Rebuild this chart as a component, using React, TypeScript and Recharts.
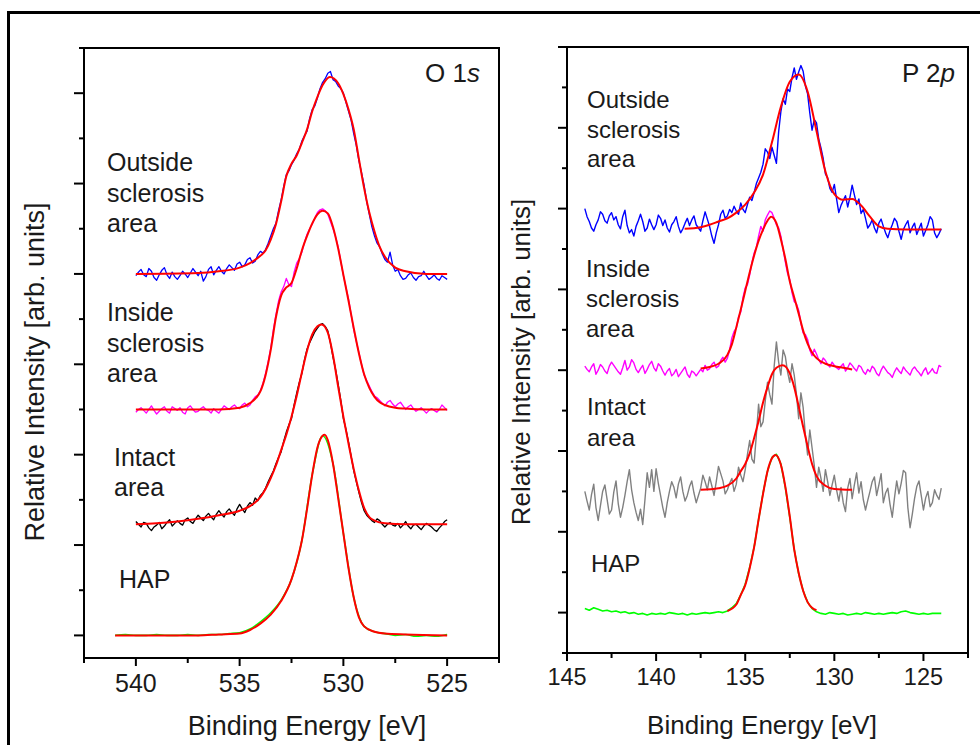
import React from 'react';
import { LineChart, Line, XAxis, YAxis, ReferenceArea } from 'recharts';

const FONT = '"Liberation Sans", Arial, sans-serif';

// ---------- O 1s panel ----------
// energy grid of the measured O 1s spectra (8 points per eV)
const O1S_E = [
  540, 539.875, 539.75, 539.625, 539.5, 539.375, 539.25, 539.125,
  539, 538.875, 538.75, 538.625, 538.5, 538.375, 538.25, 538.125,
  538, 537.875, 537.75, 537.625, 537.5, 537.375, 537.25, 537.125,
  537, 536.875, 536.75, 536.625, 536.5, 536.375, 536.25, 536.125,
  536, 535.875, 535.75, 535.625, 535.5, 535.375, 535.25, 535.125,
  535, 534.875, 534.75, 534.625, 534.5, 534.375, 534.25, 534.125,
  534, 533.875, 533.75, 533.625, 533.5, 533.375, 533.25, 533.125,
  533, 532.875, 532.75, 532.625, 532.5, 532.375, 532.25, 532.125,
  532, 531.875, 531.75, 531.625, 531.5, 531.375, 531.25, 531.125,
  531, 530.875, 530.75, 530.625, 530.5, 530.375, 530.25, 530.125,
  530, 529.875, 529.75, 529.625, 529.5, 529.375, 529.25, 529.125,
  529, 528.875, 528.75, 528.625, 528.5, 528.375, 528.25, 528.125,
  528, 527.875, 527.75, 527.625, 527.5, 527.375, 527.25, 527.125,
  527, 526.875, 526.75, 526.625, 526.5, 526.375, 526.25, 526.125,
  526, 525.875, 525.75, 525.625, 525.5, 525.375, 525.25, 525.125,
  525,
];
const O1S_OUTSIDE = [
  3.98, 4.02, 4.05, 3.99, 3.97, 4.06, 4.03, 3.96,
  3.93, 3.99, 4.04, 4.07, 3.99, 3.95, 4.02, 3.97,
  3.94, 3.98, 4.03, 4.0, 3.96, 4.01, 4.06, 4.02,
  3.98, 4.03, 3.92, 3.97, 4.05, 4.08, 3.99, 4.04,
  4.08, 4.03, 4.0, 4.06, 4.1, 4.07, 4.04, 4.11,
  4.13, 4.08, 4.1, 4.16, 4.18, 4.12, 4.14, 4.21,
  4.25, 4.23, 4.27, 4.34, 4.42, 4.5, 4.56, 4.7,
  4.82, 4.97, 5.1, 5.14, 5.21, 5.26, 5.33, 5.38,
  5.47, 5.53, 5.58, 5.72, 5.82, 5.86, 5.95, 6.05,
  6.12, 6.16, 6.22, 6.24, 6.15, 6.13, 6.08, 6.05,
  6.0, 5.9, 5.8, 5.7, 5.55, 5.42, 5.25, 5.12,
  4.98, 4.8, 4.66, 4.52, 4.42, 4.34, 4.3, 4.22,
  4.16, 4.13, 4.24, 4.1, 4.03, 4.05, 3.98, 3.94,
  3.95, 3.99, 4.01, 3.96, 3.93, 3.97, 3.98, 4.03,
  3.98, 3.94, 3.96, 3.99, 3.95, 3.93, 3.98, 3.96,
  3.94,
];
const O1S_INSIDE = [
  2.47, 2.5, 2.52, 2.49, 2.46, 2.5, 2.54, 2.49,
  2.45, 2.48, 2.51, 2.53, 2.48, 2.46, 2.53, 2.51,
  2.49, 2.52, 2.47, 2.45, 2.52, 2.54, 2.5, 2.47,
  2.48, 2.51, 2.53, 2.5, 2.49, 2.46, 2.51, 2.48,
  2.46, 2.5, 2.54, 2.52, 2.5, 2.53, 2.55, 2.52,
  2.51, 2.55, 2.57, 2.53, 2.55, 2.6, 2.64, 2.66,
  2.71, 2.79, 2.9, 3.03, 3.18, 3.38, 3.55, 3.7,
  3.8, 3.86, 3.95, 3.88, 3.86, 4.02, 4.12, 4.17,
  4.24, 4.35, 4.44, 4.5, 4.55, 4.62, 4.68, 4.71,
  4.72, 4.7, 4.66, 4.58, 4.5, 4.41, 4.3, 4.14,
  3.98, 3.85, 3.72, 3.55, 3.38, 3.25, 3.13, 3.0,
  2.88, 2.82, 2.76, 2.7, 2.65, 2.63, 2.6, 2.57,
  2.54, 2.58, 2.6, 2.56, 2.53, 2.56, 2.58, 2.54,
  2.5, 2.53, 2.55, 2.51, 2.48, 2.5, 2.52, 2.49,
  2.46, 2.49, 2.51, 2.49, 2.47, 2.5, 2.55, 2.52,
  2.49,
];
const O1S_INTACT = [
  1.26, 1.23, 1.2, 1.25, 1.24, 1.19, 1.16, 1.2,
  1.22, 1.25, 1.18, 1.21, 1.25, 1.28, 1.21, 1.24,
  1.27, 1.24, 1.22, 1.28, 1.3, 1.26, 1.24, 1.29,
  1.33, 1.3, 1.27, 1.32, 1.35, 1.31, 1.28, 1.34,
  1.38, 1.34, 1.31, 1.37, 1.4, 1.36, 1.33, 1.4,
  1.45, 1.4, 1.36, 1.43, 1.47, 1.44, 1.52, 1.49,
  1.55, 1.58, 1.63, 1.7, 1.76, 1.82, 1.9, 1.97,
  2.03, 2.15, 2.25, 2.33, 2.4, 2.55, 2.68, 2.8,
  2.9, 3.05, 3.17, 3.24, 3.3, 3.36, 3.4, 3.44,
  3.45, 3.42, 3.37, 3.24, 3.08, 2.94, 2.78, 2.6,
  2.4, 2.28, 2.14, 1.98, 1.82, 1.7, 1.58, 1.47,
  1.38, 1.33, 1.3, 1.27, 1.25, 1.29, 1.27, 1.23,
  1.2, 1.23, 1.25, 1.22, 1.21, 1.24, 1.19, 1.22,
  1.26, 1.21, 1.18, 1.22, 1.23, 1.2, 1.17, 1.21,
  1.24, 1.22, 1.2, 1.17, 1.15, 1.19, 1.22, 1.26,
  1.28,
];
const O1S_HAP_E = [
  541, 540.5, 540, 539.5, 539, 538.5, 538, 537.5, 537, 536.5, 536, 535.5, 535, 534.5,
  534, 533.5, 533, 532.5, 532, 531.5, 531, 530.5, 530, 529.5, 529, 528.5, 528, 527.5,
  527, 526.5, 526, 525.5, 525,
];
const O1S_HAP = [
  0, 0.01, 0, 0, 0.01, 0, 0, 0.01, 0, 0.01, 0.01, 0.02, 0.03, 0.07,
  0.15, 0.25, 0.39, 0.62, 1.05, 1.78, 2.21, 1.9, 1.13, 0.42, 0.1, 0.04, 0.02, 0,
  0.01, -0.01, 0, -0.01, 0.01,
];

// fitted curves, O 1s
const O1S_OUTSIDE_FIT_E = [540, 537, 536, 535, 534.5, 534, 533.75, 533.5, 533.25, 533, 532.75, 532.5, 532.25, 532, 531.75, 531.5, 531.25, 531, 530.65, 530.25, 530, 529.75, 529.5, 529.25, 529, 528.75, 528.5, 528.25, 528, 527.5, 527, 526, 525];
const O1S_OUTSIDE_FIT = [4.0, 4.01, 4.03, 4.07, 4.12, 4.2, 4.26, 4.38, 4.55, 4.8, 5.08, 5.22, 5.31, 5.45, 5.6, 5.8, 5.96, 6.09, 6.18, 6.11, 5.99, 5.82, 5.6, 5.27, 4.95, 4.68, 4.47, 4.3, 4.19, 4.07, 4.03, 4.0, 4.0];
const O1S_INSIDE_FIT_E = [540, 536, 535, 534.5, 534.2, 534, 533.75, 533.5, 533.25, 533, 532.75, 532.5, 532.25, 532, 531.75, 531.5, 531.25, 531, 530.75, 530.5, 530.25, 530, 529.75, 529.5, 529.25, 529, 528.75, 528.5, 528.25, 528, 527.5, 527, 526, 525];
const O1S_INSIDE_FIT = [2.5, 2.5, 2.52, 2.57, 2.63, 2.7, 2.88, 3.16, 3.52, 3.76, 3.85, 3.9, 4.06, 4.26, 4.42, 4.56, 4.66, 4.7, 4.67, 4.52, 4.28, 3.99, 3.7, 3.4, 3.12, 2.89, 2.74, 2.64, 2.58, 2.55, 2.52, 2.51, 2.5, 2.5];
const O1S_INTACT_FIT_E = [540, 539, 538, 537, 536, 535, 534.5, 534, 533.75, 533.5, 533.25, 533, 532.75, 532.5, 532.25, 532, 531.75, 531.5, 531.25, 531.05, 530.75, 530.5, 530.25, 530, 529.75, 529.5, 529.25, 529, 528.75, 528.5, 528, 527, 525];
const O1S_INTACT_FIT = [1.23, 1.24, 1.26, 1.29, 1.33, 1.38, 1.43, 1.53, 1.62, 1.74, 1.88, 2.05, 2.22, 2.42, 2.65, 2.91, 3.15, 3.33, 3.42, 3.44, 3.35, 3.1, 2.75, 2.42, 2.12, 1.84, 1.6, 1.41, 1.31, 1.27, 1.24, 1.23, 1.23];
const O1S_HAP_FIT_E = [541, 537, 536, 535, 534.5, 534, 533.5, 533, 532.5, 532.25, 532, 531.75, 531.5, 531.25, 531, 530.9, 530.75, 530.5, 530.25, 530, 529.75, 529.5, 529.25, 529, 528.5, 528, 527, 525];
const O1S_HAP_FIT = [0, 0, 0.01, 0.02, 0.06, 0.13, 0.23, 0.38, 0.62, 0.81, 1.05, 1.4, 1.78, 2.08, 2.21, 2.22, 2.16, 1.9, 1.52, 1.13, 0.74, 0.42, 0.2, 0.1, 0.04, 0.02, 0.01, 0];

// ---------- P 2p panel ----------
// fine energy grid for the noisy spectra (8 points per eV)
const P2P_E_FINE = [
  144, 143.875, 143.75, 143.625, 143.5, 143.375, 143.25, 143.125,
  143, 142.875, 142.75, 142.625, 142.5, 142.375, 142.25, 142.125,
  142, 141.875, 141.75, 141.625, 141.5, 141.375, 141.25, 141.125,
  141, 140.875, 140.75, 140.625, 140.5, 140.375, 140.25, 140.125,
  140, 139.875, 139.75, 139.625, 139.5, 139.375, 139.25, 139.125,
  139, 138.875, 138.75, 138.625, 138.5, 138.375, 138.25, 138.125,
  138, 137.875, 137.75, 137.625, 137.5, 137.375, 137.25, 137.125,
  137, 136.875, 136.75, 136.625, 136.5, 136.375, 136.25, 136.125,
  136, 135.875, 135.75, 135.625, 135.5, 135.375, 135.25, 135.125,
  135, 134.875, 134.75, 134.625, 134.5, 134.375, 134.25, 134.125,
  134, 133.875, 133.75, 133.625, 133.5, 133.375, 133.25, 133.125,
  133, 132.875, 132.75, 132.625, 132.5, 132.375, 132.25, 132.125,
  132, 131.875, 131.75, 131.625, 131.5, 131.375, 131.25, 131.125,
  131, 130.875, 130.75, 130.625, 130.5, 130.375, 130.25, 130.125,
  130, 129.875, 129.75, 129.625, 129.5, 129.375, 129.25, 129.125,
  129, 128.875, 128.75, 128.625, 128.5, 128.375, 128.25, 128.125,
  128, 127.875, 127.75, 127.625, 127.5, 127.375, 127.25, 127.125,
  127, 126.875, 126.75, 126.625, 126.5, 126.375, 126.25, 126.125,
  126, 125.875, 125.75, 125.625, 125.5, 125.375, 125.25, 125.125,
  125, 124.875, 124.75, 124.625, 124.5, 124.375, 124.25, 124.125,
  124,
];
const P2P_OUTSIDE = [
  5.0, 4.9, 4.84, 4.76, 4.72, 4.8, 4.86, 4.96,
  4.93, 4.85, 4.82, 4.91, 4.95, 4.86, 4.9, 4.8,
  4.75, 4.9, 4.98, 4.79, 4.7, 4.74, 4.66, 4.78,
  4.85, 4.93, 4.84, 4.72, 4.76, 4.87, 4.8, 4.74,
  4.8, 4.92, 4.88, 4.79, 4.86, 4.76, 4.71, 4.8,
  4.84, 4.9, 4.78, 4.7, 4.75, 4.82, 4.88, 4.79,
  4.86, 4.91, 4.8, 4.76, 4.72, 4.85, 4.96, 4.87,
  4.78, 4.66, 4.57, 4.7, 4.8, 4.93, 4.98, 4.88,
  4.91, 4.99, 4.95, 5.03, 4.97, 4.93, 5.07, 4.99,
  4.95, 5.05, 5.14, 5.1, 5.2, 5.31, 5.38, 5.45,
  5.55, 5.74, 5.7, 5.62, 5.76, 5.66, 5.56, 5.95,
  6.2, 6.36, 6.29, 6.48, 6.45, 6.62, 6.74, 6.6,
  6.69, 6.77, 6.7, 6.52, 6.42, 6.18, 5.97, 6.1,
  6.06, 5.86, 5.75, 5.62, 5.43, 5.38, 5.25, 5.2,
  5.3, 5.12, 4.95, 5.04, 5.1, 5.16, 5.02, 5.14,
  5.29, 5.17, 5.05, 5.12, 4.94, 4.99, 4.88, 4.76,
  4.8, 4.86, 4.76, 4.7, 4.82, 4.87, 4.78, 4.7,
  4.64, 4.73, 4.8, 4.88, 4.84, 4.72, 4.62, 4.74,
  4.8, 4.85, 4.7, 4.77, 4.82, 4.68, 4.75, 4.82,
  4.66, 4.73, 4.8, 4.9, 4.86, 4.7, 4.64, 4.69,
  4.75,
];
const P2P_INSIDE = [
  3.05, 3.01, 2.98, 3.04, 3.08, 2.95, 3.0, 3.07,
  3.04, 2.99, 2.96, 3.05, 3.1, 3.06, 3.02, 2.98,
  2.95, 3.03, 3.12, 3.0, 3.04, 3.13, 3.09, 3.01,
  2.97, 3.02, 3.06, 2.96, 3.01, 3.07, 3.11, 3.03,
  2.99, 3.08, 3.05, 2.99, 2.94, 2.99, 3.02, 2.93,
  2.96, 3.01, 2.92, 2.96, 3.0, 3.04, 2.95, 2.91,
  2.99, 2.97, 2.93, 2.97, 3.01, 2.98, 3.06, 3.0,
  3.02, 3.07, 3.1, 3.03, 3.05, 3.12, 3.16, 3.1,
  3.15, 3.25, 3.4, 3.48, 3.52, 3.66, 3.72, 3.9,
  4.02, 4.06, 4.18, 4.33, 4.45, 4.52, 4.66, 4.78,
  4.72, 4.86, 4.92, 4.97, 4.95, 4.88, 4.8, 4.76,
  4.66, 4.5, 4.34, 4.2, 4.12, 3.96, 3.85, 3.82,
  3.74, 3.58, 3.46, 3.44, 3.38, 3.25, 3.18, 3.26,
  3.2, 3.13, 3.08, 3.15, 3.12, 3.07, 3.04, 3.1,
  3.06, 3.03, 3.01, 3.05, 3.08, 2.99, 3.03, 3.09,
  3.06, 3.02, 2.99, 3.06, 3.04, 2.98, 2.95, 3.01,
  2.98, 3.05, 3.02, 2.96, 2.93, 3.0, 3.05, 3.01,
  2.97, 2.95, 2.91, 2.98, 3.03, 2.99, 2.96, 3.04,
  3.0, 2.97, 2.94, 3.01, 3.04, 3.0, 2.97, 2.93,
  2.99, 3.03, 2.95, 2.98, 3.02, 2.97, 2.96, 3.06,
  3.04,
];
const P2P_INTACT = [
  1.5, 1.38, 1.27, 1.46, 1.59, 1.3, 1.14, 1.32,
  1.5, 1.58, 1.4, 1.22, 1.27, 1.49, 1.63, 1.35,
  1.18, 1.3, 1.45, 1.62, 1.77, 1.52, 1.36, 1.24,
  1.14, 1.28, 1.09, 1.4, 1.73, 1.55, 1.77, 1.5,
  1.78, 1.6, 1.45, 1.3, 1.18, 1.36, 1.5, 1.62,
  1.55, 1.42, 1.59, 1.68, 1.5, 1.38, 1.45, 1.56,
  1.63, 1.48, 1.36, 1.45, 1.54, 1.7, 1.62, 1.52,
  1.68, 1.57, 1.45, 1.62, 1.81, 1.72, 1.63, 1.47,
  1.52, 1.6, 1.66, 1.5, 1.59, 1.8, 1.7, 1.62,
  1.77, 1.96, 2.13, 1.9, 1.85, 2.2, 2.58, 2.3,
  2.36, 2.62, 2.85, 2.7, 2.58, 3.05, 3.35, 3.1,
  2.94, 3.25, 3.17, 2.98, 2.85, 3.08, 2.94, 2.7,
  2.4, 2.72, 2.54, 2.2, 1.95, 2.26, 2.04, 1.82,
  1.55, 1.8, 1.66, 1.5, 1.77, 1.62, 1.45, 1.58,
  1.7, 1.52, 1.38, 1.55, 1.36, 1.25, 1.54, 1.66,
  1.41, 1.58, 1.73, 1.48, 1.62, 1.4, 1.27, 1.39,
  1.5, 1.62, 1.68, 1.45, 1.58, 1.72, 1.36, 1.48,
  1.54, 1.34, 1.18, 1.42, 1.63, 1.47, 1.6, 1.76,
  1.73, 1.3, 1.05, 1.22, 1.41, 1.56, 1.63, 1.45,
  1.27, 1.42, 1.5, 1.31, 1.36, 1.52, 1.45, 1.4,
  1.54,
];
const P2P_E = [
  144, 143.75, 143.5, 143.25, 143, 142.75, 142.5, 142.25, 142, 141.75, 141.5, 141.25,
  141, 140.75, 140.5, 140.25, 140, 139.75, 139.5, 139.25, 139, 138.75, 138.5, 138.25,
  138, 137.75, 137.5, 137.25, 137, 136.75, 136.5, 136.25, 136, 135.75, 135.5, 135.25,
  135, 134.75, 134.5, 134.25, 134, 133.75, 133.5, 133.25, 133, 132.75, 132.5, 132.25,
  132, 131.75, 131.5, 131.25, 131, 130.75, 130.5, 130.25, 130, 129.75, 129.5, 129.25,
  129, 128.75, 128.5, 128.25, 128, 127.75, 127.5, 127.25, 127, 126.75, 126.5, 126.25,
  126, 125.75, 125.5, 125.25, 125, 124.75, 124.5, 124.25, 124,
];
const P2P_HAP = [
  0.05, 0.03, 0.06, 0.04, 0.02, 0.03, 0.01, 0.02, 0, 0.01, -0.01, 0,
  -0.02, -0.01, -0.03, -0.01, -0.02, -0.01, -0.02, 0, -0.01, -0.02, -0.01, -0.03,
  -0.01, -0.02, -0.01, 0, -0.01, 0, 0.01, 0, 0.02, 0.06, 0.11, 0.22,
  0.35, 0.56, 0.81, 1.15, 1.48, 1.75, 1.92, 1.96, 1.84, 1.55, 1.18, 0.78,
  0.48, 0.27, 0.13, 0.05, 0.01, -0.01, -0.02, 0, -0.01, -0.02, -0.01, -0.03,
  -0.02, -0.01, -0.02, 0, -0.01, -0.02, -0.01, -0.02, -0.01, 0, -0.01, 0.01,
  0.02, 0, -0.01, -0.02, -0.01, -0.02, -0.01, -0.01, -0.01,
];

// fitted curves, P 2p
const P2P_OUTSIDE_FIT_E = [138.4, 137.5, 137, 136.5, 136, 135.5, 135, 134.5, 134, 133.5, 133, 132.5, 132, 131.5, 131, 130.5, 130, 129.5, 129, 128.5, 128, 127.5, 127, 126, 124];
const P2P_OUTSIDE_FIT = [4.75, 4.77, 4.8, 4.84, 4.88, 4.95, 5.05, 5.2, 5.42, 5.82, 6.26, 6.57, 6.66, 6.45, 5.96, 5.46, 5.18, 5.11, 5.12, 5.04, 4.9, 4.78, 4.75, 4.74, 4.74];
const P2P_INSIDE_FIT_E = [137.5, 137, 136.5, 136, 135.75, 135.5, 135.25, 135, 134.75, 134.5, 134.25, 134, 133.75, 133.55, 133.25, 133, 132.75, 132.5, 132.25, 132, 131.75, 131.5, 131.25, 131, 130.5, 130, 129.5, 129];
const P2P_INSIDE_FIT = [3.02, 3.04, 3.08, 3.19, 3.32, 3.53, 3.75, 3.98, 4.21, 4.42, 4.6, 4.74, 4.85, 4.9, 4.82, 4.62, 4.38, 4.1, 3.9, 3.7, 3.49, 3.33, 3.22, 3.15, 3.08, 3.05, 3.03, 3.01];
const P2P_INTACT_FIT_E = [137.5, 136.5, 136, 135.5, 135.25, 135, 134.75, 134.5, 134.25, 134, 133.75, 133.5, 133.25, 132.9, 132.5, 132.25, 132, 131.75, 131.5, 131.25, 131, 130.5, 130, 129];
const P2P_INTACT_FIT = [1.52, 1.54, 1.57, 1.66, 1.75, 1.84, 1.97, 2.16, 2.37, 2.6, 2.79, 2.95, 3.03, 3.06, 2.96, 2.79, 2.55, 2.3, 2.06, 1.84, 1.69, 1.57, 1.53, 1.52];
const P2P_HAP_FIT_E = [136, 135.5, 135.25, 135, 134.75, 134.5, 134.25, 134, 133.75, 133.5, 133.3, 133, 132.75, 132.5, 132.25, 132, 131.75, 131.5, 131.25, 131];
const P2P_HAP_FIT = [0.02, 0.1, 0.22, 0.34, 0.55, 0.81, 1.15, 1.47, 1.75, 1.91, 1.95, 1.83, 1.56, 1.19, 0.78, 0.49, 0.27, 0.13, 0.06, 0.03];

// axis ticks
const O1S_XTICKS = [542.5, 540, 537.5, 535, 532.5, 530, 527.5, 525, 522.5];
const O1S_YTICKS = [0, 0.5, 1, 1.5, 2, 2.5, 3, 3.5, 4, 4.5, 5, 5.5, 6, 6.5];
const P2P_XTICKS = [145, 142.5, 140, 137.5, 135, 132.5, 130, 127.5, 125, 122.5];
const P2P_YTICKS = [-0.5, 0, 0.5, 1, 1.5, 2, 2.5, 3, 3.5, 4, 4.5, 5, 5.5, 6, 6.5, 7];

const pts = (xs: number[], ys: number[]) => xs.map((x, i) => ({ x, y: ys[i] }));

type Series = { data: { x: number; y: number }[]; color: string; width: number; smooth?: boolean };

const RED = '#ff0000';

const O1S_SERIES: Series[] = [
  { data: pts(O1S_E, O1S_OUTSIDE), color: '#0000ff', width: 1.3 },
  { data: pts(O1S_OUTSIDE_FIT_E, O1S_OUTSIDE_FIT), color: RED, width: 2, smooth: true },
  { data: pts(O1S_E, O1S_INSIDE), color: '#ff00ff', width: 1.3 },
  { data: pts(O1S_INSIDE_FIT_E, O1S_INSIDE_FIT), color: RED, width: 2, smooth: true },
  { data: pts(O1S_E, O1S_INTACT), color: '#000000', width: 1.3 },
  { data: pts(O1S_INTACT_FIT_E, O1S_INTACT_FIT), color: RED, width: 2, smooth: true },
  { data: pts(O1S_HAP_E, O1S_HAP), color: '#00ff00', width: 1.6, smooth: true },
  { data: pts(O1S_HAP_FIT_E, O1S_HAP_FIT), color: RED, width: 2, smooth: true },
];

const P2P_SERIES: Series[] = [
  { data: pts(P2P_E_FINE, P2P_OUTSIDE), color: '#0000ff', width: 1.4 },
  { data: pts(P2P_OUTSIDE_FIT_E, P2P_OUTSIDE_FIT), color: RED, width: 2, smooth: true },
  { data: pts(P2P_E_FINE, P2P_INSIDE), color: '#ff00ff', width: 1.4 },
  { data: pts(P2P_INSIDE_FIT_E, P2P_INSIDE_FIT), color: RED, width: 2, smooth: true },
  { data: pts(P2P_E_FINE, P2P_INTACT), color: '#808080', width: 1.4 },
  { data: pts(P2P_INTACT_FIT_E, P2P_INTACT_FIT), color: RED, width: 2, smooth: true },
  { data: pts(P2P_E, P2P_HAP), color: '#00ff00', width: 1.6 },
  { data: pts(P2P_HAP_FIT_E, P2P_HAP_FIT), color: RED, width: 2, smooth: true },
];

function XTick(props: any) {
  const { x, y, payload, labelDy, fontSize } = props;
  const v = payload.value as number;
  const major = Math.abs(v % 5) < 1e-6;
  return (
    <g>
      <line x1={x} y1={y} x2={x} y2={y + (major ? 8 : 5)} stroke="#000" strokeWidth={2} />
      {major && (
        <text x={x} y={y + labelDy} textAnchor="middle" fontSize={fontSize} fontFamily={FONT} fill="#1a1a1a">
          {v}
        </text>
      )}
    </g>
  );
}

function YTick(props: any) {
  const { x, y, payload, majorLen } = props;
  const major = Number.isInteger(payload.value);
  return <line x1={x - (major ? majorLen : 5)} y1={y} x2={x} y2={y} stroke="#000" strokeWidth={2} />;
}

type PanelProps = {
  left: number;
  width: number;
  margin: { top: number; right: number; bottom: number; left: number };
  xDomain: [number, number];
  yDomain: [number, number];
  xTicks: number[];
  yTicks: number[];
  series: Series[];
  labelDy: number;
  tickFont: number;
  yMajorLen: number;
};

function Panel(p: PanelProps) {
  return (
    <div style={{ position: 'absolute', left: p.left, top: 0 }}>
      <LineChart width={p.width} height={745} margin={p.margin}>
        <XAxis
          dataKey="x"
          type="number"
          domain={p.xDomain}
          reversed
          allowDataOverflow
          ticks={p.xTicks}
          interval={0}
          height={1}
          tickSize={0}
          tickMargin={0}
          axisLine={false}
          tickLine={false}
          tick={(t: any) => <XTick {...t} labelDy={p.labelDy} fontSize={p.tickFont} />}
        />
        <YAxis
          type="number"
          domain={p.yDomain}
          allowDataOverflow
          ticks={p.yTicks}
          interval={0}
          width={1}
          tickSize={0}
          tickMargin={0}
          axisLine={false}
          tickLine={false}
          tick={(t: any) => <YTick {...t} majorLen={p.yMajorLen} />}
        />
        <ReferenceArea
          x1={p.xDomain[0]}
          x2={p.xDomain[1]}
          y1={p.yDomain[0]}
          y2={p.yDomain[1]}
          fill="none"
          fillOpacity={0}
          stroke="#000"
          strokeWidth={2}
          ifOverflow="visible"
        />
        {p.series.map((s, i) => (
          <Line
            key={i}
            data={s.data}
            dataKey="y"
            type={s.smooth ? 'monotone' : 'linear'}
            stroke={s.color}
            strokeWidth={s.width}
            dot={false}
            activeDot={false}
            isAnimationActive={false}
            strokeLinejoin="round"
          />
        ))}
      </LineChart>
    </div>
  );
}

function Label({ x, y, lines, size, lead }: { x: number; y: number; lines: string[]; size: number; lead: number }) {
  return (
    <>
      {lines.map((l, i) => (
        <text key={i} x={x} y={y + i * lead} fontSize={size} fontFamily={FONT} fill="#1a1a1a">
          {l}
        </text>
      ))}
    </>
  );
}

export default function App() {
  return (
    <div style={{ position: 'absolute', left: 0, top: 0, width: 980, height: 745, overflow: 'hidden', background: '#fff' }}>
      <div
        style={{
          position: 'absolute', left: 7, top: 11, width: 1100, height: 900,
          borderLeft: '3px solid #000', borderTop: '3px solid #000',
        }}
      />
      <Panel
        left={0}
        width={520}
        margin={{ top: 48, right: 21, bottom: 86, left: 83 }}
        xDomain={[522.5, 542.5]}
        yDomain={[-0.25, 6.5]}
        xTicks={O1S_XTICKS}
        yTicks={O1S_YTICKS}
        series={O1S_SERIES}
        labelDy={34}
        tickFont={25}
        yMajorLen={10}
      />
      <Panel
        left={520}
        width={460}
        margin={{ top: 47, right: 12, bottom: 91, left: 46 }}
        xDomain={[122.5, 145]}
        yDomain={[-0.5, 7]}
        xTicks={P2P_XTICKS}
        yTicks={P2P_YTICKS}
        series={P2P_SERIES}
        labelDy={32}
        tickFont={23.5}
        yMajorLen={9}
      />
      <svg width={980} height={745} style={{ position: 'absolute', left: 0, top: 0, pointerEvents: 'none' }}>
        {/* O 1s panel texts */}
        <text x={480} y={82} textAnchor="end" fontSize={26} fontFamily={FONT} fill="#1a1a1a">
          O 1<tspan fontStyle="italic">s</tspan>
        </text>
        <Label x={107} y={171} lines={['Outside', 'sclerosis', 'area']} size={25} lead={30.5} />
        <Label x={107} y={321} lines={['Inside', 'sclerosis', 'area']} size={25} lead={30.5} />
        <Label x={114} y={466} lines={['Intact', 'area']} size={25} lead={30} />
        <Label x={119} y={588} lines={['HAP']} size={25} lead={30} />
        <text x={307} y={735} textAnchor="middle" fontSize={27} fontFamily={FONT} fill="#1a1a1a">
          Binding Energy [eV]
        </text>
        <text transform="translate(43.5,372) rotate(-90)" textAnchor="middle" fontSize={27} fontFamily={FONT} fill="#1a1a1a">
          Relative Intensity [arb. units]
        </text>

        {/* P 2p panel texts */}
        <text x={955} y={82} textAnchor="end" fontSize={26} fontFamily={FONT} fill="#1a1a1a">
          P 2<tspan fontStyle="italic">p</tspan>
        </text>
        <Label x={587} y={108} lines={['Outside', 'sclerosis', 'area']} size={24} lead={29.5} />
        <Label x={586} y={277} lines={['Inside', 'sclerosis', 'area']} size={24} lead={30} />
        <Label x={587} y={415} lines={['Intact', 'area']} size={24} lead={31} />
        <Label x={591} y={572} lines={['HAP']} size={24} lead={30} />
        <text x={762} y={734} textAnchor="middle" fontSize={26} fontFamily={FONT} fill="#1a1a1a">
          Binding Energy [eV]
        </text>
        <text transform="translate(529.5,362) rotate(-90)" textAnchor="middle" fontSize={26} fontFamily={FONT} fill="#1a1a1a">
          Relative Intensity [arb. units]
        </text>
      </svg>
    </div>
  );
}
